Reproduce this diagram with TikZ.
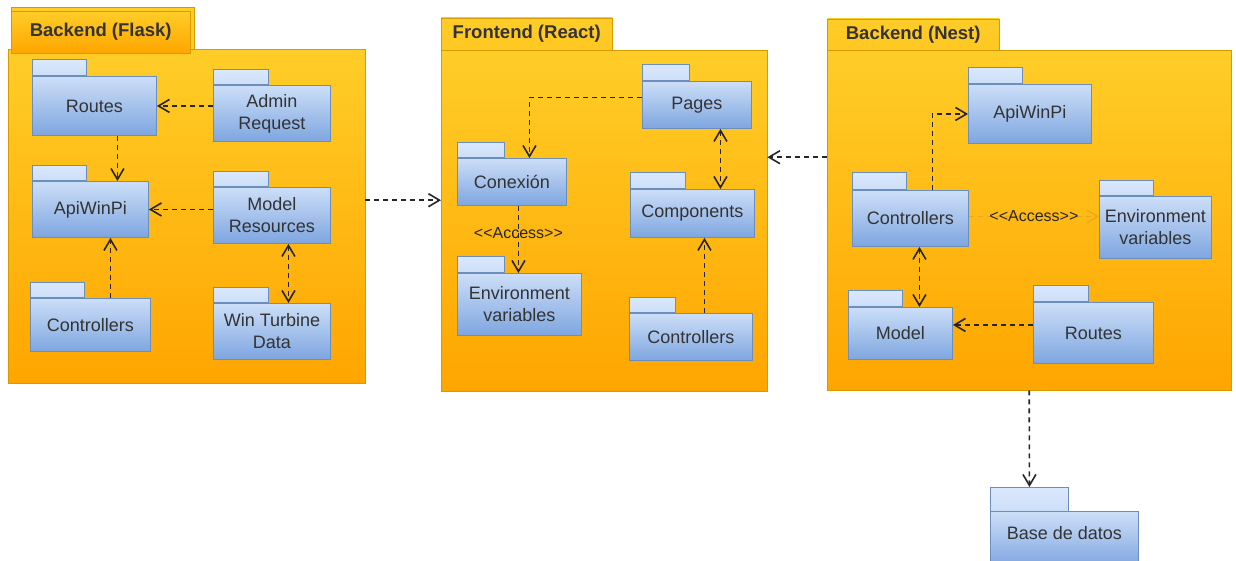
\documentclass[tikz,border=0pt]{standalone}
\usepackage{fontspec}
\setmainfont{Liberation Sans}
\usetikzlibrary{arrows.meta, positioning}

\definecolor{boxtop}{HTML}{DAE8FC}
\definecolor{boxbot}{HTML}{7EA6E0}
\definecolor{boxline}{HTML}{6C8EBF}
\definecolor{grouptop}{HTML}{FFCD28}
\definecolor{groupbot}{HTML}{FFA500}
\definecolor{groupline}{HTML}{D79B00}
\definecolor{ink}{HTML}{333333}
\definecolor{faint}{HTML}{E9A915}

\begin{document}
\begin{tikzpicture}[
        x=1pt, y=-1pt,
        >={Straight Barb[length=11pt, width=13pt]},
        group/.style={draw=groupline, top color=grouptop, bottom color=groupbot, anchor=north west, inner sep=0pt},
        grouptab/.style={draw=groupline, top color=grouptop, bottom color=grouptop!85!groupbot, anchor=south west, inner sep=0pt, text=ink, font=\fontsize{18.5}{21}\selectfont\bfseries},
        pkg/.style={draw=boxline, line width=0.9pt, top color=boxtop!85!boxbot, bottom color=boxbot, anchor=north west, align=center, inner sep=0pt, text=ink, font=\fontsize{18}{22}\selectfont},
        pkgtab/.style={draw=boxline, line width=0.9pt, top color=boxtop, bottom color=boxtop!85!boxbot, anchor=south west, inner sep=0pt, minimum height=16pt},
        dep/.style={->, dash pattern=on 5pt off 4pt, line width=1.6pt, draw=black!85},
        access/.style={font=\fontsize{16}{18}\selectfont, text=black!85}
    ]
        \useasboundingbox[fill=white] (0,0) rectangle (1236,560);

        \node[grouptab, anchor=north west, bottom color=grouptop, minimum width=183pt, minimum height=43pt] (FlaskTabBack) at (11,7) {};
        \node[group, minimum width=357pt, minimum height=334pt] (Flask) at (8,49) {};
        \node[grouptab, anchor=north west, bottom color=groupbot, minimum width=179pt, minimum height=42pt] (FlaskTab) at (11,11) {Backend (Flask)};

        \node[group, minimum width=326pt, minimum height=341pt] (React) at (441,50) {};
        \node[grouptab, minimum width=171pt, minimum height=32pt] (ReactTab) at (React.north west) {Frontend (React)};

        \node[group, minimum width=404pt, minimum height=340pt] (Nest) at (827,50) {};
        \node[grouptab, minimum width=172pt, minimum height=31pt] (NestTab) at (Nest.north west) {Backend (Nest)};

        \node[pkg, minimum width=124pt, minimum height=59pt] (FlaskRoutes) at (32,76) {Routes};
        \node[pkgtab, minimum width=54pt] (FlaskRoutesTab) at (FlaskRoutes.north west) {};
        \node[pkg, minimum width=117pt, minimum height=56pt] (FlaskAdmin) at (213,85) {Admin\\Request};
        \node[pkgtab, minimum width=55pt, minimum height=15pt] (FlaskAdminTab) at (FlaskAdmin.north west) {};
        \node[pkg, minimum width=116pt, minimum height=56pt] (FlaskApi) at (32,181) {ApiWinPi};
        \node[pkgtab, minimum width=54pt, minimum height=15pt] (FlaskApiTab) at (FlaskApi.north west) {};
        \node[pkg, minimum width=117pt, minimum height=56pt] (FlaskModel) at (213,187) {Model\\Resources};
        \node[pkgtab, minimum width=55pt, minimum height=15pt] (FlaskModelTab) at (FlaskModel.north west) {};
        \node[pkg, minimum width=120pt, minimum height=53pt] (FlaskCtrl) at (30,298) {Controllers};
        \node[pkgtab, minimum width=54pt, minimum height=15pt] (FlaskCtrlTab) at (FlaskCtrl.north west) {};
        \node[pkg, minimum width=117pt, minimum height=56pt] (FlaskData) at (213,303) {Win Turbine\\Data};
        \node[pkgtab, minimum width=55pt, minimum height=15pt] (FlaskDataTab) at (FlaskData.north west) {};

        \node[pkg, minimum width=109pt, minimum height=47pt] (ReactPages) at (642,81) {Pages};
        \node[pkgtab, minimum width=47pt] (ReactPagesTab) at (ReactPages.north west) {};
        \node[pkg, minimum width=109pt, minimum height=47pt] (ReactConn) at (457,158) {Conexión};
        \node[pkgtab, minimum width=47pt, minimum height=15pt] (ReactConnTab) at (ReactConn.north west) {};
        \node[pkg, minimum width=124pt, minimum height=48pt] (ReactComp) at (630,189) {Components};
        \node[pkgtab, minimum width=55pt] (ReactCompTab) at (ReactComp.north west) {};
        \node[pkg, minimum width=124pt, minimum height=62pt] (ReactEnv) at (457,273) {Environment\\variables};
        \node[pkgtab, minimum width=47pt] (ReactEnvTab) at (ReactEnv.north west) {};
        \node[pkg, minimum width=123pt, minimum height=47pt] (ReactCtrl) at (629,313) {Controllers};
        \node[pkgtab, minimum width=46pt, minimum height=15pt] (ReactCtrlTab) at (ReactCtrl.north west) {};

        \node[pkg, minimum width=123pt, minimum height=59pt] (NestApi) at (968,84) {ApiWinPi};
        \node[pkgtab, minimum width=54pt] (NestApiTab) at (NestApi.north west) {};
        \node[pkg, minimum width=116pt, minimum height=56pt] (NestCtrl) at (852,190) {Controllers};
        \node[pkgtab, minimum width=54pt, minimum height=17pt] (NestCtrlTab) at (NestCtrl.north west) {};
        \node[pkg, minimum width=112pt, minimum height=62pt] (NestEnv) at (1099,196) {Environment\\variables};
        \node[pkgtab, minimum width=54pt, minimum height=15pt] (NestEnvTab) at (NestEnv.north west) {};
        \node[pkg, minimum width=104pt, minimum height=52pt] (NestModel) at (848,307) {Model};
        \node[pkgtab, minimum width=54pt] (NestModelTab) at (NestModel.north west) {};
        \node[pkg, minimum width=120pt, minimum height=61pt] (NestRoutes) at (1033,302) {Routes};
        \node[pkgtab, minimum width=55pt] (NestRoutesTab) at (NestRoutes.north west) {};

        \node[pkgtab, anchor=north west, minimum width=78pt, minimum height=24pt] (DbTab) at (990,487) {};
        \node[pkg, minimum width=148pt, minimum height=56pt,
            label={[text=ink, font=\fontsize{18}{22}\selectfont, anchor=center, yshift=-22pt]north:Base de datos}] (Db) at (990,511) {};

        \draw[dep] (FlaskAdmin.west |- FlaskRoutes.east) -- (FlaskRoutes.east);
        \draw[dep] ([xshift=23pt]FlaskRoutes.south) -- ([xshift=23pt]FlaskRoutes.south |- FlaskApi.north);
        \draw[dep] (FlaskModel.west |- FlaskApi.east) -- (FlaskApi.east);
        \draw[dep] ([xshift=20pt]FlaskCtrl.north) -- ([xshift=20pt]FlaskApi.south);
        \draw[dep, <->] ([xshift=16.5pt]FlaskModel.south) -- ([xshift=16.5pt]FlaskData.north);
        \draw[dep] ([yshift=16pt]Flask.east) -- ([yshift=16pt]Flask.east -| React.west);

        \draw[dep] ([yshift=7.5pt]ReactPages.west) -| ([xshift=17.5pt]ReactConn.north);
        \draw[dep] ([xshift=6.5pt]ReactConn.south) -- ([xshift=6.5pt]ReactConn.south |- ReactEnv.north)
            node[access, pos=0.41] {<\kern0pt<Access>\kern0pt>};
        \draw[dep, <->] ([xshift=23.5pt]ReactPages.south) -- ([xshift=23.5pt]ReactPages.south |- ReactComp.north);
        \draw[dep] ([xshift=13.5pt]ReactCtrl.north) -- ([xshift=13.5pt]ReactCtrl.north |- ReactComp.south);

        \draw[dep] ([yshift=63pt]Nest.west) -- ([yshift=63pt]Nest.west -| React.east);
        \draw[dep] ([xshift=22pt]NestCtrl.north) |- (NestApi.west);
        \draw[dep, draw=faint, line width=1.2pt] ([yshift=2pt]NestCtrl.east) -- ([yshift=2pt]NestCtrl.east -| NestEnv.west)
            node[access, midway] {<\kern0pt<Access>\kern0pt>};
        \draw[dep, <->] ([xshift=9pt]NestCtrl.south) -- ([xshift=9pt]NestCtrl.south |- NestModel.north);
        \draw[dep] ([yshift=8pt]NestRoutes.west) -- ([yshift=8pt]NestRoutes.west -| NestModel.east);
        \draw[dep] (Nest.south) -- (DbTab.north);
    \end{tikzpicture}
\end{document}
